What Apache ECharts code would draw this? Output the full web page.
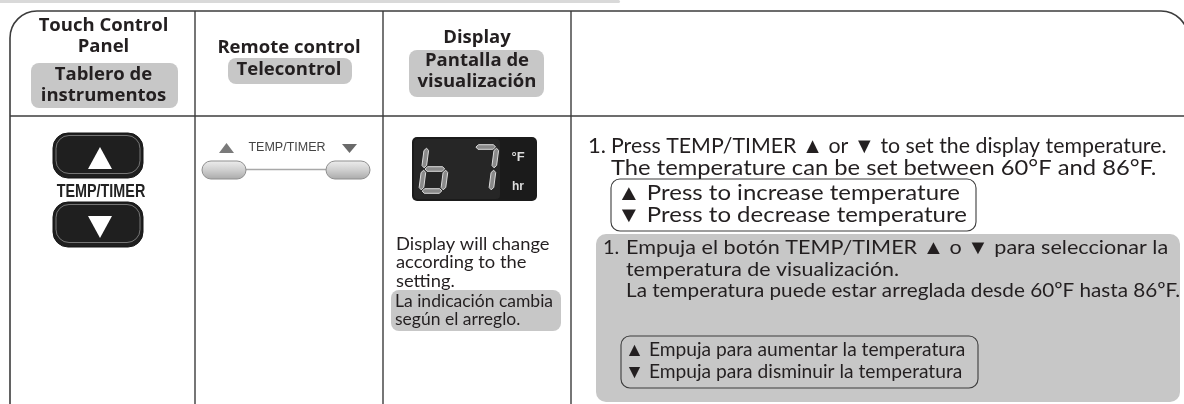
<!DOCTYPE html>
<html><head><meta charset="utf-8">
<script src="https://cdn.jsdelivr.net/npm/echarts@6/dist/echarts.min.js"></script>
<style>html,body{margin:0;padding:0;background:#fff}#c{width:1184px;height:404px}</style>
</head><body><div id="c"></div>
<script>
// ---- content (data) ----
const headerEN = [['Touch Control', 'Panel'], ['Remote control'], ['Display']];
const headerES = [['Tablero de', 'instrumentos'], ['Telecontrol'], ['Pantalla de', 'visualización']];
const buttonLabel = 'TEMP/TIMER';
const displayDigits = ['6', '7'];
const displayUnits = ['°F', 'hr'];
const displayNoteEN = ['Display will change', 'according to the', 'setting.'];
const displayNoteES = ['La indicación cambia', 'según el arreglo.'];
const stepNumber = '1.';
const stepEN = ['Press TEMP/TIMER ▲ or ▼ to set the display temperature.', 'The temperature can be set between 60°F and 86°F.'];
const keysEN = ['▲ Press to increase temperature', '▼ Press to decrease temperature'];
const stepES = ['Empuja el botón TEMP/TIMER ▲ o ▼ para seleccionar la', 'temperatura de visualización.', 'La temperatura puede estar arreglada desde 60ºF hasta 86ºF.'];
const keysES = ['▲ Empuja para aumentar la temperatura', '▼ Empuja para disminuir la temperatura'];

// ---- layout ----
const FONT = 'Lato, "Open Sans", sans-serif';
const BOLDFONT = '"Open Sans", "Noto Sans", sans-serif';
const ARIAL = '"Liberation Sans", Arial, sans-serif';
const INK = '#231f20';
const GRAY = '#c7c7c7';
const LINE = '#3c3c3c';
const colX = [10, 195, 383, 571, 1188];
const headerBottom = 116;

const els = [];
function txt(x, y, text, o) {
  o = o || {};
  const al = o.align || 'left';
  els.push({
    type: 'text', x: x, y: y, scaleX: o.scaleX || 1, z: 10,
    style: {
      text: text, fill: o.fill || INK,
      fontSize: o.size || 16, fontFamily: o.family || FONT, fontWeight: o.weight || 'normal',
      align: al, textAlign: al, verticalAlign: 'middle', textVerticalAlign: 'middle'
    }
  });
}
function rrect(x, y, w, h, r, style, z) {
  els.push({ type: 'rect', z: z || 1, shape: { x: x, y: y, width: w, height: h, r: r }, style: style });
}
function poly(points, style, z) {
  els.push({ type: 'polygon', z: z || 5, shape: { points: points }, style: style });
}
function line(x1, y1, x2, y2, style, z) {
  els.push({ type: 'line', z: z || 3, shape: { x1: x1, y1: y1, x2: x2, y2: y2 }, style: style });
}

// top strip
rrect(0, 0, 620, 3, [0, 2, 2, 0], { fill: '#d9d9d9' });
// table frame
rrect(colX[0], 11, colX[4] - colX[0], 420, [27, 27, 0, 0], { fill: 'none', stroke: LINE, lineWidth: 1.6 }, 3);
line(colX[0], headerBottom, colX[4], headerBottom, { stroke: LINE, lineWidth: 1.6 });
for (let i = 1; i <= 3; i++) line(colX[i], 11, colX[i], 404, { stroke: LINE, lineWidth: 1.4 });

// ---- header ----
const HB = { size: 18.5, weight: 'bold', align: 'center', family: BOLDFONT };
const c1 = (colX[0] + colX[1]) / 2 + 1;
txt(c1, 26, headerEN[0][0], HB);
txt(c1, 47, headerEN[0][1], HB);
rrect(31, 63, 147, 45, 8, { fill: GRAY });
txt(c1, 75, headerES[0][0], HB);
txt(c1, 96, headerES[0][1], HB);
const c2 = (colX[1] + colX[2]) / 2;
txt(c2, 48, headerEN[1][0], HB);
rrect(228, 58, 124, 26, 8, { fill: GRAY });
txt(c2, 70, headerES[1][0], HB);
const c3 = (colX[2] + colX[3]) / 2;
txt(c3, 38, headerEN[2][0], HB);
rrect(409, 50, 135, 47, 8, { fill: GRAY });
txt(c3, 61, headerES[2][0], HB);
txt(c3, 82, headerES[2][1], HB);

// ---- body col 1: touch panel buttons ----
function darkButton(y, up) {
  rrect(53, y, 90, 45, 15, { fill: '#1f1f1f', stroke: '#151515', lineWidth: 1 }, 4);
  rrect(56, y + 2.5, 84, 38, 13, { fill: 'none', stroke: 'rgba(190,190,190,0.55)', lineWidth: 1 }, 5);
  const cx = 100, t = y + 14, b = y + 36;
  poly(up ? [[cx, t], [cx + 12, b], [cx - 12, b]] : [[cx - 12, t], [cx + 12, t], [cx, b]], { fill: '#ffffff' }, 6);
}
darkButton(133, true);
darkButton(202, false);
txt(101, 192, buttonLabel, { size: 17.5, weight: 'bold', align: 'center', family: ARIAL, scaleX: 0.82, fill: '#222' });

// ---- body col 2: remote ----
poly([[226.5, 143], [234, 153], [219, 153]], { fill: '#7a7a7a' });
poly([[342, 144], [357, 144], [349.5, 153]], { fill: '#6a6a6a' });
txt(287, 148, buttonLabel, { size: 12.5, align: 'center', family: ARIAL, fill: '#444' });
line(246, 169.5, 326, 169.5, { stroke: '#a8a8a8', lineWidth: 1.4 });
function grayPill(x) {
  rrect(x, 161, 44, 18, 9, {
    fill: { type: 'linear', x: 0, y: 0, x2: 0, y2: 1, colorStops: [{ offset: 0, color: '#eeeeee' }, { offset: 0.5, color: '#cfcfcf' }, { offset: 1, color: '#a9a9a9' }] },
    stroke: '#8f8f8f', lineWidth: 1
  }, 4);
}
grayPill(202);
grayPill(326);

// ---- body col 3: display ----
const DX = 412, DY = 137, DW = 125, DH = 64;
rrect(DX, DY, DW, DH, 5, { fill: '#1b1b1b' }, 4);
rrect(DX + 2, DY + 2, 86, DH - 4, 4, { fill: '#262626' }, 4);
const SEG = {
  '0': 'abcdef', '1': 'bc', '2': 'abged', '3': 'abgcd', '4': 'fgbc', '5': 'afgcd',
  '6': 'fgedc', '7': 'abc', '8': 'abcdefg', '9': 'abcdfg'
};
function digit(ch, x0, y0, w, h) {
  const t = 4.6, k = 0.13, g = 1.2;
  const P = (x, y) => [x0 + x + k * (h - y), y0 + y];
  const hs = (yc) => [P(g, yc), P(g + t / 2, yc - t / 2), P(w - g - t / 2, yc - t / 2), P(w - g, yc), P(w - g - t / 2, yc + t / 2), P(g + t / 2, yc + t / 2)];
  const vs = (xc, y1, y2) => [P(xc, y1 + g), P(xc + t / 2, y1 + g + t / 2), P(xc + t / 2, y2 - g - t / 2), P(xc, y2 - g), P(xc - t / 2, y2 - g - t / 2), P(xc - t / 2, y1 + g + t / 2)];
  const map = {
    a: hs(0), g: hs(h / 2), d: hs(h),
    f: vs(0, 0, h / 2), e: vs(0, h / 2, h), b: vs(w, 0, h / 2), c: vs(w, h / 2, h)
  };
  for (const s of SEG[ch]) poly(map[s], { fill: '#8a8a8a', stroke: '#dcdcdc', lineWidth: 1 }, 6);
}
digit(displayDigits[0], 421, DY + 10, 22, 44);
digit(displayDigits[1], 469, DY + 10, 22, 44);
txt(518, DY + 20, displayUnits[0], { size: 13, weight: 'bold', align: 'center', family: ARIAL, fill: '#dddddd' });
txt(518, DY + 50, displayUnits[1], { size: 12, weight: 'bold', align: 'center', family: ARIAL, fill: '#dddddd' });

displayNoteEN.forEach((s, i) => txt(396, 244 + i * 18.5, s, { size: 18, scaleX: 1.02 }));
rrect(391, 290, 170, 41, 8, { fill: GRAY });
displayNoteES.forEach((s, i) => txt(395, 301 + i * 18.5, s, { size: 17.5, scaleX: 1.0 }));

// ---- body col 4: instructions ----
txt(588, 146, stepNumber, { size: 22 });
const enScale = [0.97, 1.08];
stepEN.forEach((s, i) => txt(611, 146 + i * 21.5, s, { size: 22, scaleX: enScale[i] }));
rrect(611, 179, 365, 52, 9, { fill: 'none', stroke: LINE, lineWidth: 1.1 }, 3);
keysEN.forEach((s, i) => txt(617, 193 + i * 22, s, { size: 22, scaleX: 1.09 }));

rrect(596, 234, 584, 168, 10, { fill: GRAY }, 1);
txt(603, 248, stepNumber, { size: 20 });
const esScale = [1.08, 1.07, 1.035];
stepES.forEach((s, i) => txt(626, 248 + i * 21.5, s, { size: 20, scaleX: esScale[i] }));
rrect(621, 336, 357, 52, 9, { fill: 'none', stroke: LINE, lineWidth: 1.1 }, 3);
keysES.forEach((s, i) => txt(625, 350 + i * 22, s, { size: 19.2 }));

const chart = echarts.init(document.getElementById('c'), null, { renderer: 'canvas' });
chart.setOption({ backgroundColor: '#ffffff', animation: false, graphic: { elements: els } });
</script>
</body></html>
